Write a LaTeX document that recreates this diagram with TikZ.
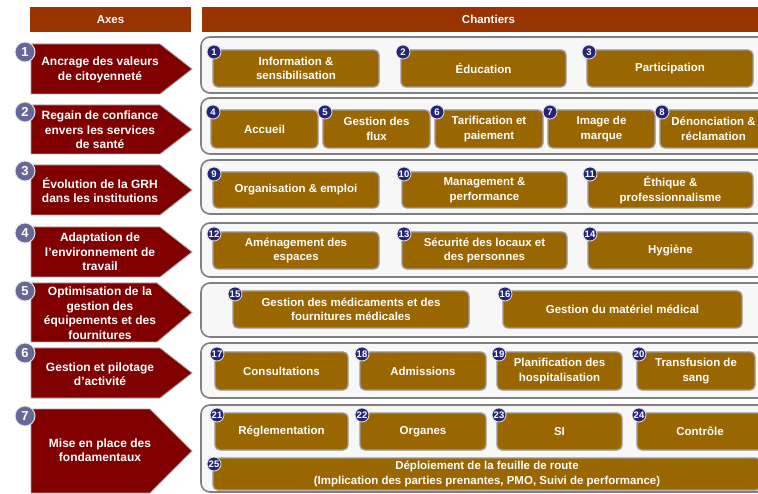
\documentclass[tikz,border=0pt]{standalone}
\usepackage{fontspec}
\setmainfont{Liberation Sans}
\usepackage{tikz}

\definecolor{entete}{RGB}{153,51,0}
\definecolor{axerouge}{RGB}{128,0,0}
\definecolor{chbrun}{RGB}{153,102,0}
\definecolor{axepastille}{RGB}{104,104,152}
\definecolor{chpastille}{RGB}{36,36,120}
\definecolor{panfond}{RGB}{247,247,247}
\definecolor{bord}{RGB}{128,128,128}

\tikzset{
  entetebox/.style={rectangle, fill=entete, text=white, inner sep=0pt,
    font=\bfseries\fontsize{11.5}{14}\selectfont},
  axefleche/.style={fill=axerouge, draw=bord!70, line width=0.8pt},
  axetexte/.style={text=white, align=center, inner sep=0pt,
    font=\bfseries\fontsize{12}{14.5}\selectfont},
  axenum/.style={circle, fill=axepastille, draw=white!80!gray, line width=1pt,
    minimum size=20pt, inner sep=0pt, text=white,
    font=\bfseries\fontsize{13}{13}\selectfont},
  panneau/.style={fill=panfond, draw=bord, line width=1.6pt, rounded corners=9pt},
  chbox/.style={rectangle, fill=chbrun, draw=bord!80, line width=1.4pt,
    rounded corners=5pt, inner sep=0pt, text=white, align=center,
    font=\bfseries\fontsize{11.5}{14.5}\selectfont},
  chnum/.style={circle, fill=chpastille, draw=white!80!gray, line width=0.8pt,
    minimum size=14pt, inner sep=0pt, text=white,
    font=\bfseries\fontsize{9.5}{9.5}\selectfont},
}

\begin{document}
\begin{tikzpicture}[x=1pt, y=-1pt]
  \useasboundingbox (0,0) rectangle (758,494);
  \clip (0,0) rectangle (758,494);

  % en-tetes
  \node[entetebox, minimum width=161, minimum height=25] (axes) at (110.5,19.5) {Axes};
  \node[entetebox, minimum width=573, minimum height=25] (chantiers) at (488.5,19.5) {Chantiers};

  % axes
  \draw[axefleche] (31,44) -- (160,44) -- (192,69) -- (160,94) -- (31,94) -- cycle;
  \draw[axefleche] (31,105) -- (160,105) -- (192,129.5) -- (160,154) -- (31,154) -- cycle;
  \draw[axefleche] (31,165) -- (160,165) -- (192,190) -- (160,215) -- (31,215) -- cycle;
  \draw[axefleche] (31,227) -- (160,227) -- (192,252) -- (160,277) -- (31,277) -- cycle;
  \draw[axefleche] (31,283) -- (157,283) -- (192,312.5) -- (157,342) -- (31,342) -- cycle;
  \draw[axefleche] (31,348) -- (160,348) -- (192,373) -- (160,398) -- (31,398) -- cycle;
  \draw[axefleche] (31,409) -- (150,409) -- (192,451) -- (150,493) -- (31,493) -- cycle;

  \node[axetexte] (axe1) at (100,70) {Ancrage des valeurs\\de citoyenneté};
  \node[axetexte] (axe2) at (100,130) {Regain de confiance\\envers les services\\de santé};
  \node[axetexte] (axe3) at (100,190) {Évolution de la GRH\\dans les institutions};
  \node[axetexte] (axe4) at (100,252) {Adaptation de\\l’environnement de\\travail};
  \node[axetexte] (axe5) at (100,313) {Optimisation de la\\gestion des\\équipements et des\\fournitures};
  \node[axetexte] (axe6) at (100,374) {Gestion et pilotage\\d’activité};
  \node[axetexte] (axe7) at (100,450) {Mise en place des\\fondamentaux};

  \node[axenum] (na1) at (25,52) {1};
  \node[axenum] (na2) at (25,112) {2};
  \node[axenum] (na3) at (25,171) {3};
  \node[axenum] (na4) at (25,233) {4};
  \node[axenum] (na5) at (25,291) {5};
  \node[axenum] (na6) at (25,353) {6};
  \node[axenum] (na7) at (25,416) {7};

  % panneaux
  \draw[panneau] (201,37) rectangle (780,93);
  \draw[panneau] (201,98) rectangle (780,154);
  \draw[panneau] (201,160) rectangle (780,214);
  \draw[panneau] (201,223) rectangle (780,277);
  \draw[panneau] (201,283) rectangle (780,337);
  \draw[panneau] (201,343) rectangle (780,398);
  \draw[panneau] (201,405) rectangle (780,492);

  % chantiers
  \node[chbox, minimum width=166, minimum height=37] (c1) at (296,68.5) {Information \&\\sensibilisation};
  \node[chbox, minimum width=165, minimum height=37] (c2) at (483.5,68.5) {Éducation};
  \node[chbox, minimum width=166, minimum height=37] (c3) at (670,68.5) {Participation};

  \node[chbox, minimum width=107, minimum height=38] (c4) at (264.5,129) {Accueil};
  \node[chbox, minimum width=107, minimum height=38] (c5) at (376.5,129) {Gestion des\\flux};
  \node[chbox, minimum width=108, minimum height=38] (c6) at (489,129) {Tarification et\\paiement};
  \node[chbox, minimum width=107, minimum height=38] (c7) at (601.5,129) {Image de\\marque};
  \node[chbox, minimum width=107, minimum height=38] (c8) at (713.5,129) {Dénonciation \&\\réclamation};

  \node[chbox, minimum width=166, minimum height=36] (c9) at (296,190) {Organisation \& emploi};
  \node[chbox, minimum width=165, minimum height=36] (c10) at (484.5,190) {Management \&\\performance};
  \node[chbox, minimum width=165, minimum height=36] (c11) at (670.5,190) {Éthique \&\\professionnalisme};

  \node[chbox, minimum width=166, minimum height=37] (c12) at (296,250.5) {Aménagement des\\espaces};
  \node[chbox, minimum width=165, minimum height=37] (c13) at (484.5,250.5) {Sécurité des locaux et\\des personnes};
  \node[chbox, minimum width=165, minimum height=37] (c14) at (670.5,250.5) {Hygiène};

  \node[chbox, minimum width=236, minimum height=37] (c15) at (351,309.5) {Gestion des médicaments et des\\fournitures médicales};
  \node[chbox, minimum width=239, minimum height=37] (c16) at (622.5,309.5) {Gestion du matériel médical};

  \node[chbox, minimum width=133, minimum height=38] (c17) at (281.5,371) {Consultations};
  \node[chbox, minimum width=126, minimum height=38] (c18) at (423,371) {Admissions};
  \node[chbox, minimum width=125, minimum height=38] (c19) at (559.5,371) {Planification des\\hospitalisation};
  \node[chbox, minimum width=118, minimum height=38] (c20) at (696,371) {Transfusion de\\sang};

  \node[chbox, minimum width=133, minimum height=37] (c21) at (281.5,431.5) {Réglementation};
  \node[chbox, minimum width=126, minimum height=37] (c22) at (423,431.5) {Organes};
  \node[chbox, minimum width=125, minimum height=37] (c23) at (559.5,431.5) {SI};
  \node[chbox, minimum width=126, minimum height=37] (c24) at (700,431.5) {Contrôle};

  \node[chbox, minimum width=548, minimum height=32] (c25) at (487,474) {Déploiement de la feuille de route\\(Implication des parties prenantes, PMO, Suivi de performance)};

  % numeros des chantiers
  \node[chnum] (n1) at (214,52) {1};
  \node[chnum] (n2) at (403,52) {2};
  \node[chnum] (n3) at (589,52) {3};
  \node[chnum] (n4) at (213,112) {4};
  \node[chnum] (n5) at (325,112) {5};
  \node[chnum] (n6) at (437,112) {6};
  \node[chnum] (n7) at (550,112) {7};
  \node[chnum] (n8) at (662,112) {8};
  \node[chnum] (n9) at (214,174) {9};
  \node[chnum] (n10) at (404,174) {10};
  \node[chnum] (n11) at (590,174) {11};
  \node[chnum] (n12) at (214,234) {12};
  \node[chnum] (n13) at (404,234) {13};
  \node[chnum] (n14) at (590,234) {14};
  \node[chnum] (n15) at (235,294) {15};
  \node[chnum] (n16) at (505,294) {16};
  \node[chnum] (n17) at (217,354) {17};
  \node[chnum] (n18) at (362,354) {18};
  \node[chnum] (n19) at (499,354) {19};
  \node[chnum] (n20) at (639,354) {20};
  \node[chnum] (n21) at (217,415) {21};
  \node[chnum] (n22) at (362,415) {22};
  \node[chnum] (n23) at (499,415) {23};
  \node[chnum] (n24) at (639,415) {24};
  \node[chnum] (n25) at (214,464) {25};
\end{tikzpicture}
\end{document}
